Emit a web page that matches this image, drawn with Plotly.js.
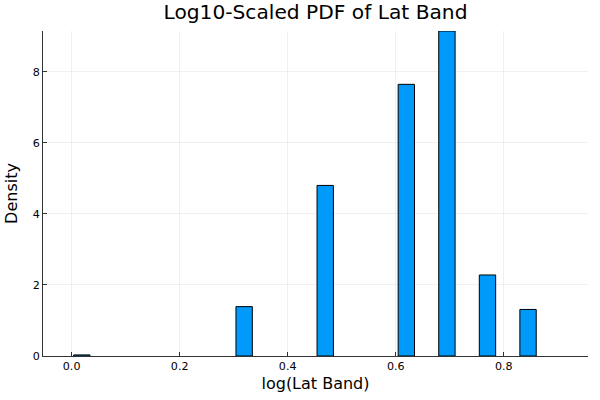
<!DOCTYPE html>
<html>
<head>
<meta charset="utf-8">
<script src="https://cdn.plot.ly/plotly-3.0.1.min.js"></script>
<style>html,body{margin:0;padding:0;background:#fff}#chart{width:600px;height:400px}</style>
</head>
<body>
<div id="chart"></div>
<script>
// Bin centers of log10(Lat Band) histogram and their densities
var binCenters = [0.0188, 0.3194, 0.4695, 0.6197, 0.6948, 0.7699, 0.8450];
var densities  = [0.03, 1.39, 4.80, 7.645, 9.146, 2.28, 1.31];
var xTicks = [0.0, 0.2, 0.4, 0.6, 0.8];
var xTickLabels = ["0.0", "0.2", "0.4", "0.6", "0.8"];
var yTicks = [0, 2, 4, 6, 8];
var yTickLabels = ["0", "2", "4", "6", "8"];

var font = "DejaVu Sans, sans-serif";

var trace = {
  type: "bar",
  x: binCenters,
  y: densities,
  width: 0.0303,
  marker: { color: "#009AFA", line: { color: "#000000", width: 1 } },
  hoverinfo: "x+y"
};

var layout = {
  width: 600,
  height: 400,
  paper_bgcolor: "#ffffff",
  plot_bgcolor: "#ffffff",
  showlegend: false,
  margin: { l: 43.3, r: 11.7, t: 31, b: 44.3, pad: 0 },
  title: {
    text: "Log10-Scaled PDF of Lat Band",
    font: { family: font, size: 20.2, color: "#000000" },
    x: 0.5, xref: "paper", xanchor: "center",
    y: 1 - 11.5 / 400, yref: "container", yanchor: "middle"
  },
  xaxis: {
    range: [-0.053, 0.956],
    tickvals: xTicks,
    ticktext: xTickLabels,
    ticks: "inside",
    ticklen: 4,
    tickwidth: 1,
    tickcolor: "rgba(0,0,0,0.8)",
    showline: true,
    linecolor: "rgba(0,0,0,0.8)",
    linewidth: 1,
    mirror: false,
    showgrid: true,
    gridcolor: "rgba(0,0,0,0.06)",
    gridwidth: 1,
    zeroline: false,
    tickfont: { family: font, size: 11.1, color: "#000000" },
    title: { text: "log(Lat Band)", font: { family: font, size: 16, color: "#000000" }, standoff: 5 },
    automargin: false
  },
  yaxis: {
    range: [0, 9.146],
    tickvals: yTicks,
    ticktext: yTickLabels,
    ticks: "inside",
    ticklen: 4,
    tickwidth: 1,
    tickcolor: "rgba(0,0,0,0.8)",
    showline: true,
    linecolor: "rgba(0,0,0,0.8)",
    linewidth: 1,
    mirror: false,
    showgrid: true,
    gridcolor: "rgba(0,0,0,0.06)",
    gridwidth: 1,
    zeroline: false,
    tickfont: { family: font, size: 11.1, color: "#000000" },
    title: { text: "Density", font: { family: font, size: 16, color: "#000000" }, standoff: 11 },
    automargin: false
  },
  bargap: 0
};

Plotly.newPlot("chart", [trace], layout, { displayModeBar: false, staticPlot: true });
</script>
</body>
</html>
